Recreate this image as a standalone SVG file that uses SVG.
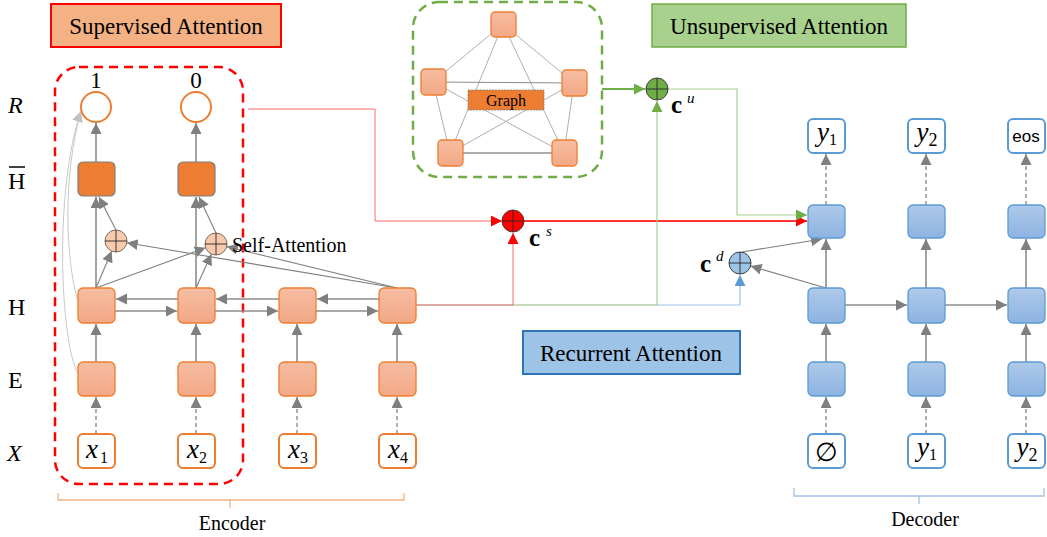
<svg xmlns="http://www.w3.org/2000/svg" width="1047" height="537" viewBox="0 0 1047 537">
<defs>
<linearGradient id="gOr" x1="0" y1="0" x2="0" y2="1"><stop offset="0" stop-color="#F6BDA2"/><stop offset="1" stop-color="#F3A885"/></linearGradient>
<linearGradient id="gBl" x1="0" y1="0" x2="0" y2="1"><stop offset="0" stop-color="#AEC9E9"/><stop offset="1" stop-color="#8DB3E2"/></linearGradient>
<marker id="aG" markerUnits="userSpaceOnUse" markerWidth="12" markerHeight="12" refX="11" refY="5.5" orient="auto"><path d="M0,0 L11,5.5 L0,11 z" fill="#7F7F7F"/></marker>
<marker id="aL" markerUnits="userSpaceOnUse" markerWidth="12" markerHeight="12" refX="11" refY="5.5" orient="auto"><path d="M0,0 L11,5.5 L0,11 z" fill="#BFBFBF"/></marker>
<marker id="aR" markerUnits="userSpaceOnUse" markerWidth="12" markerHeight="12" refX="11" refY="5.5" orient="auto"><path d="M0,0 L11,5.5 L0,11 z" fill="#FF0000"/></marker>
<marker id="aGr" markerUnits="userSpaceOnUse" markerWidth="12" markerHeight="12" refX="11" refY="5.5" orient="auto"><path d="M0,0 L11,5.5 L0,11 z" fill="#70AD47"/></marker>
<marker id="aB" markerUnits="userSpaceOnUse" markerWidth="12" markerHeight="12" refX="11" refY="5.5" orient="auto"><path d="M0,0 L11,5.5 L0,11 z" fill="#5B9BD5"/></marker>
</defs>
<style>
text{font-family:'Liberation Serif',serif;fill:#000}
.eb{fill:url(#gOr);stroke:#ED7D31;stroke-width:1.3}
.db{fill:url(#gBl);stroke:#5B9BD5;stroke-width:1.3}
.ein{fill:#fff;stroke:#ED7D31;stroke-width:2}
.din{fill:#fff;stroke:#5B9BD5;stroke-width:2}
.hb{fill:#ED7D31;stroke:#7F7F7F;stroke-width:1.2}
.sol{stroke:#8C8C8C;stroke-width:1.6;fill:none;marker-end:url(#aG)}
.thin{stroke:#7F7F7F;stroke-width:1.1;fill:none;marker-end:url(#aG)}
.dsh{stroke:#8C8C8C;stroke-width:1.4;stroke-dasharray:4 3;fill:none;marker-end:url(#aG)}
.ge{stroke:#A6A6A6;stroke-width:0.9;fill:none}
.x{stroke:#262626;stroke-width:0.9}
.big{font-size:23px}
.lab{font-size:24px}
.tok{font-size:27px}
.sub{font-size:16px}
.ctx{font-size:25px;font-weight:bold}
.sup{font-size:15px;font-style:italic}
</style>

<g id="supervised-attention"><rect x="51" y="4" width="230" height="43" fill="#F4B183" stroke="#FF0000" stroke-width="2"/><text x="166" y="34" text-anchor="middle" class="big">Supervised Attention</text></g>
<g id="unsupervised-attention"><rect x="652" y="4" width="254" height="43" fill="#A9D18E" stroke="#70AD47" stroke-width="1.5"/><text x="779" y="34" text-anchor="middle" class="big">Unsupervised Attention</text></g>
<g id="recurrent-attention"><rect x="523" y="331" width="217" height="43" fill="#9DC3E6" stroke="#2E75B6" stroke-width="2"/><text x="631" y="361" text-anchor="middle" class="big">Recurrent Attention</text></g>

<g id="row-labels">
<text x="8" y="113" font-style="italic" class="lab">R</text>
<text x="8" y="189" class="lab">H</text>
<line x1="9" y1="167" x2="25" y2="167" stroke="#000" stroke-width="1.5"/>
<text x="8" y="315" class="lab">H</text>
<text x="8" y="388" class="lab">E</text>
<text x="7" y="461" font-style="italic" class="lab">X</text>
</g>

<g id="supervised-region"><rect x="55" y="67" width="188" height="417" rx="24" fill="none" stroke="#FF0000" stroke-width="2.5" stroke-dasharray="9 6"/></g>

<g id="graph">
<rect x="413" y="2" width="189" height="175" rx="26" fill="none" stroke="#70AD47" stroke-width="2.5" stroke-dasharray="9 6"/>
<line class="ge" x1="503" y1="24" x2="433" y2="82"/>
<line class="ge" x1="503" y1="24" x2="574" y2="83"/>
<line class="ge" x1="503" y1="24" x2="450" y2="153"/>
<line class="ge" x1="503" y1="24" x2="564" y2="153"/>
<line x1="433" y1="82" x2="574" y2="83" stroke="#8C8C8C" stroke-width="1"/>
<line class="ge" x1="433" y1="82" x2="450" y2="153"/>
<line class="ge" x1="433" y1="82" x2="564" y2="153"/>
<line class="ge" x1="574" y1="83" x2="564" y2="153"/>
<line class="ge" x1="574" y1="83" x2="450" y2="153"/>
<line x1="450" y1="153" x2="564" y2="153" stroke="#595959" stroke-width="1"/>
<rect x="468" y="90" width="76" height="20" fill="#ED7D31" stroke="#7F7F7F" stroke-width="0.8" stroke-dasharray="2 1"/>
<text x="506" y="106" text-anchor="middle" font-size="16">Graph</text>
<rect class="eb" x="491" y="12" width="25" height="25" rx="4"/>
<rect class="eb" x="421" y="69" width="25" height="26" rx="4"/>
<rect class="eb" x="562" y="70" width="25" height="26" rx="4"/>
<rect class="eb" x="438" y="140" width="25" height="26" rx="4"/>
<rect class="eb" x="552" y="140" width="25" height="26" rx="4"/>
</g>

<g id="connectors">
<path class="dsh" d="M96,434 V397"/><path class="dsh" d="M196,434 V397"/><path class="dsh" d="M297,434 V397"/><path class="dsh" d="M397,434 V397"/>
<path class="sol" d="M96,362 V324"/><path class="sol" d="M196,362 V324"/><path class="sol" d="M297,362 V324"/><path class="sol" d="M397,362 V324"/>
<path class="sol" d="M178,299 H116"/><path class="sol" d="M279,299 H216"/><path class="sol" d="M379,299 H317"/>
<path class="sol" d="M115,311 H177"/><path class="sol" d="M215,311 H278"/><path class="sol" d="M316,311 H378"/>
<path class="sol" d="M96,288 V197"/><path class="sol" d="M196,288 V197"/>
<path class="sol" d="M96,162 V123"/><path class="sol" d="M196,162 V123"/>
<path class="thin" d="M116,230 L99,197"/><path class="thin" d="M216,233 L199,197"/>
<path class="thin" d="M96,288 L111.7,251.1"/>
<path class="thin" d="M96,288 L205.7,247.8"/>
<path class="thin" d="M196,288 L211.4,254"/>
<path class="thin" d="M397,288 L126.8,242.8"/>
<path class="thin" d="M397,288 L226.7,246.6"/>
<path d="M78,374 C60,340 54,190 81,111" fill="none" stroke="#C8C8C8" stroke-width="1" marker-end="url(#aL)"/>
<path d="M78,302 C66,260 62,180 81,111" fill="none" stroke="#C8C8C8" stroke-width="1"/>
<path d="M248,109 H375 V221 H502" fill="none" stroke="#FF6B6B" stroke-width="1" marker-end="url(#aR)"/>
<path d="M524,221 H807" fill="none" stroke="#FF3333" stroke-width="2" marker-end="url(#aR)"/>
<path d="M513,305 V233" fill="none" stroke="#FF6B6B" stroke-width="1" marker-end="url(#aR)"/>
<path d="M416,305 H513" fill="none" stroke="#C0504D" stroke-width="1.2"/>
<path d="M513,305 H657" fill="none" stroke="#8FB37A" stroke-width="1.2"/>
<path d="M657,305 H740 V275" fill="none" stroke="#9DC3E6" stroke-width="1.2" marker-end="url(#aB)"/>
<path d="M657,305 V101" fill="none" stroke="#A9D18E" stroke-width="1.2" marker-end="url(#aGr)"/>
<path d="M602,89 H645" fill="none" stroke="#70AD47" stroke-width="2" marker-end="url(#aGr)"/>
<path d="M668,89 H737 V215 H807" fill="none" stroke="#A9D18E" stroke-width="1.2" marker-end="url(#aGr)"/>
<path class="dsh" d="M826,434 V397"/><path class="dsh" d="M926,434 V397"/><path class="dsh" d="M1026,434 V397"/>
<path class="sol" d="M826,362 V324"/><path class="sol" d="M926,362 V324"/><path class="sol" d="M1026,362 V324"/>
<path class="sol" d="M826,288 V239"/><path class="sol" d="M926,288 V239"/><path class="sol" d="M1026,288 V239"/>
<path class="dsh" d="M826,205 V154"/><path class="dsh" d="M926,205 V154"/><path class="dsh" d="M1026,205 V154"/>
<path class="sol" d="M845,305 H907"/><path class="sol" d="M945,305 H1007"/>
<path class="thin" d="M826,288 L750.6,266.1"/>
<path class="thin" d="M742,252 L822,239"/>
</g>

<g id="encoder-col1">
<rect class="ein" x="78" y="434" width="37" height="34" rx="5"/><text x="97" y="458" text-anchor="middle" class="tok"><tspan font-style="italic">x</tspan><tspan class="sub" dx="2" dy="5">1</tspan></text>
<rect class="eb" x="78" y="362" width="37" height="34" rx="5"/>
<rect class="eb" x="78" y="288" width="37" height="35" rx="5"/>
<rect class="hb" x="78" y="162" width="37" height="34" rx="5"/>
<circle cx="96" cy="107" r="15" fill="#fff" stroke="#ED7D31" stroke-width="2"/>
<text x="96" y="88" text-anchor="middle" font-size="23">1</text>
</g>
<g id="encoder-col2">
<rect class="ein" x="178" y="434" width="37" height="34" rx="5"/><text x="197" y="458" text-anchor="middle" class="tok"><tspan font-style="italic">x</tspan><tspan class="sub" dy="5">2</tspan></text>
<rect class="eb" x="178" y="362" width="37" height="34" rx="5"/>
<rect class="eb" x="178" y="288" width="37" height="35" rx="5"/>
<rect class="hb" x="178" y="162" width="37" height="34" rx="5"/>
<circle cx="196" cy="107" r="15" fill="#fff" stroke="#ED7D31" stroke-width="2"/>
<text x="196" y="88" text-anchor="middle" font-size="23">0</text>
</g>
<g id="encoder-col3">
<rect class="ein" x="279" y="434" width="37" height="34" rx="5"/><text x="298" y="458" text-anchor="middle" class="tok"><tspan font-style="italic">x</tspan><tspan class="sub" dy="5">3</tspan></text>
<rect class="eb" x="279" y="362" width="37" height="34" rx="5"/>
<rect class="eb" x="279" y="288" width="37" height="35" rx="5"/>
</g>
<g id="encoder-col4">
<rect class="ein" x="379" y="434" width="37" height="34" rx="5"/><text x="398" y="458" text-anchor="middle" class="tok"><tspan font-style="italic">x</tspan><tspan class="sub" dy="5">4</tspan></text>
<rect class="eb" x="379" y="362" width="37" height="34" rx="5"/>
<rect class="eb" x="379" y="288" width="37" height="35" rx="5"/>
</g>

<g id="self-attn-1"><circle cx="116" cy="241" r="11" fill="#F8CBAD" stroke="#7F6A5F" stroke-width="1"/><line class="x" x1="105" y1="241" x2="127" y2="241"/><line class="x" x1="116" y1="230" x2="116" y2="252"/></g>
<g id="self-attn-2"><circle cx="216" cy="244" r="11" fill="#F8CBAD" stroke="#7F6A5F" stroke-width="1"/><line class="x" x1="205" y1="244" x2="227" y2="244"/><line class="x" x1="216" y1="233" x2="216" y2="255"/><text x="232" y="252" font-size="20">Self-Attention</text></g>

<g id="cs"><circle cx="513" cy="221" r="11" fill="#FF0000" stroke="#404040" stroke-width="1"/><line class="x" x1="502" y1="221" x2="524" y2="221"/><line class="x" x1="513" y1="210" x2="513" y2="232"/>
<text x="529" y="246" class="ctx">c</text><text x="546" y="236" class="sup">s</text></g>
<g id="cu"><circle cx="657" cy="89" r="11" fill="#70AD47" stroke="#404040" stroke-width="1"/><line class="x" x1="646" y1="89" x2="668" y2="89"/><line class="x" x1="657" y1="78" x2="657" y2="100"/>
<text x="671" y="113" class="ctx">c</text><text x="687" y="103" class="sup">u</text></g>
<g id="cd"><circle cx="740" cy="263" r="11" fill="#9DC3E6" stroke="#404040" stroke-width="1"/><line class="x" x1="729" y1="263" x2="751" y2="263"/><line class="x" x1="740" y1="252" x2="740" y2="274"/>
<text x="700" y="272" class="ctx">c</text><text x="716" y="261" class="sup">d</text></g>

<g id="decoder-col1">
<rect class="din" x="808" y="434" width="37" height="34" rx="5"/><text x="826" y="461" text-anchor="middle" font-size="26">∅</text>
<rect class="db" x="808" y="362" width="37" height="34" rx="5"/>
<rect class="db" x="808" y="288" width="37" height="35" rx="5"/>
<rect class="db" x="808" y="205" width="37" height="33" rx="5"/>
<rect class="din" x="808" y="119" width="37" height="34" rx="5"/><text x="827" y="141" text-anchor="middle" class="tok"><tspan font-style="italic">y</tspan><tspan class="sub" dy="4">1</tspan></text>
</g>
<g id="decoder-col2">
<rect class="din" x="908" y="434" width="37" height="34" rx="5"/><text x="927" y="456" text-anchor="middle" class="tok"><tspan font-style="italic">y</tspan><tspan class="sub" dy="4">1</tspan></text>
<rect class="db" x="908" y="362" width="37" height="34" rx="5"/>
<rect class="db" x="908" y="288" width="37" height="35" rx="5"/>
<rect class="db" x="908" y="205" width="37" height="33" rx="5"/>
<rect class="din" x="908" y="119" width="37" height="34" rx="5"/><text x="927" y="141" text-anchor="middle" class="tok"><tspan font-style="italic">y</tspan><tspan font-size="18" dy="5">2</tspan></text>
</g>
<g id="decoder-col3">
<rect class="din" x="1008" y="434" width="37" height="34" rx="5"/><text x="1027" y="456" text-anchor="middle" class="tok"><tspan font-style="italic">y</tspan><tspan font-size="18" dy="5">2</tspan></text>
<rect class="db" x="1008" y="362" width="37" height="34" rx="5"/>
<rect class="db" x="1008" y="288" width="37" height="35" rx="5"/>
<rect class="db" x="1008" y="205" width="37" height="33" rx="5"/>
<rect class="din" x="1008" y="119" width="37" height="34" rx="5"/><text x="1026" y="142" text-anchor="middle" font-size="17" style="font-family:'Liberation Sans',sans-serif">eos</text>
</g>

<g id="encoder-brace"><path d="M58,493 V500 H404 V493 M230,500 V508" fill="none" stroke="#F4B183" stroke-width="1.3"/><text x="232" y="530" text-anchor="middle" font-size="20">Encoder</text></g>
<g id="decoder-brace"><path d="M794,488 V496 H1044 V488 M919,496 V504" fill="none" stroke="#9DC3E6" stroke-width="1.3"/><text x="925" y="526" text-anchor="middle" font-size="20">Decoder</text></g>
</svg>
